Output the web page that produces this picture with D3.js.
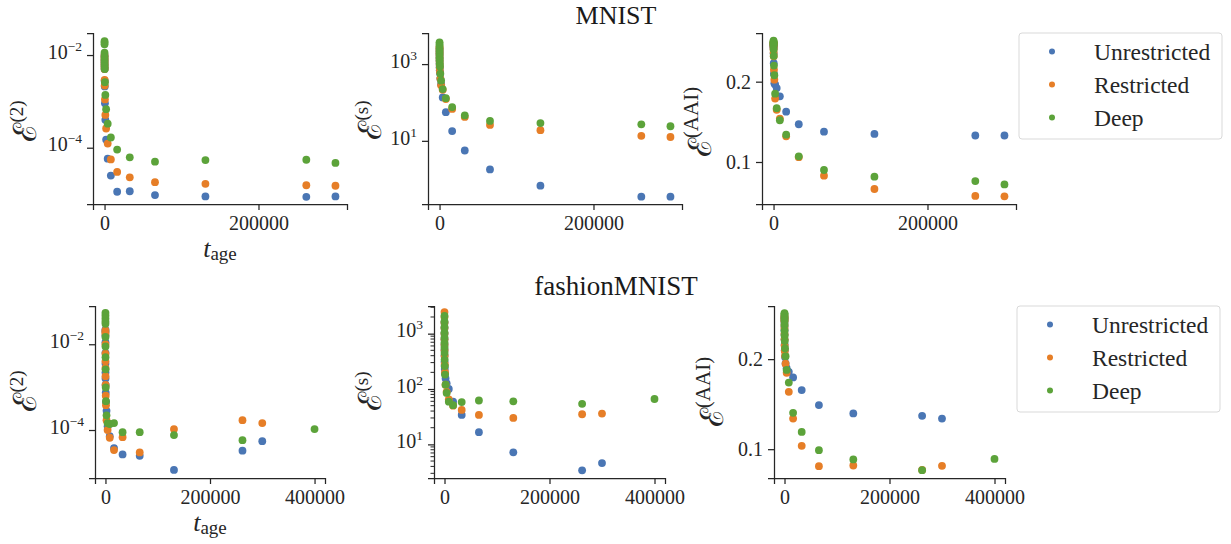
<!DOCTYPE html>
<html>
<head>
<meta charset="utf-8">
<script src="https://cdn.jsdelivr.net/npm/d3@7"></script>
<style>
  body { margin: 0; background: #fff; }
</style>
</head>
<body>
<svg width="1231" height="544"></svg>
<script>

var serif = "'Liberation Serif', 'Times New Roman', Tinos, 'DejaVu Serif', serif";

// t_age values (powers of two, then the last checkpoint)
var tAge = [1, 2, 4, 8, 16, 32, 64, 128, 256, 512, 1024, 2048, 4096, 8192,
            16384, 32768, 65536, 131072, 262144, 300000];
var tAgeDeepFashion = [1, 2, 4, 8, 16, 32, 64, 128, 256, 512, 1024, 2048, 4096, 8192,
            16384, 32768, 65536, 131072, 262144, 400000];

var seriesNames = ["Unrestricted", "Restricted", "Deep"];
var seriesColors = ["#4a76b4", "#e67e27", "#5ca33a"];

// MNIST, E^(2)
var mnistE2Unres = [1.0e-2, 9.1e-3, 7.9e-3, 7.1e-3, 6.3e-3, 5.6e-3, 5.0e-3, 2.8e-3, 2.1e-3, 9.1e-4,
  4.0e-4, 1.5e-4, 5.8e-5, 2.5e-5, 1.12e-5, 1.15e-5, 9.5e-6, 8.9e-6, 8.7e-6, 8.9e-6];
var mnistE2Res = [1.0e-2, 8.9e-3, 7.9e-3, 7.1e-3, 6.3e-3, 5.6e-3, 5.0e-3, 2.9e-3, 2.2e-3, 1.1e-3,
  5.1e-4, 2.6e-4, 1.23e-4, 5.6e-5, 3.0e-5, 2.3e-5, 1.8e-5, 1.66e-5, 1.55e-5, 1.51e-5];
var mnistE2Deep = [2.0e-2, 1.86e-2, 1.7e-2, 1.12e-2, 9.1e-3, 7.9e-3, 6.8e-3, 5.8e-3, 5.0e-3, 2.6e-3,
  1.38e-3, 6.8e-4, 3.3e-4, 1.66e-4, 9.1e-5, 6.2e-5, 5.0e-5, 5.4e-5, 5.5e-5, 4.7e-5];

// MNIST, E^(s)
var mnistEsUnres = [2500, 2190, 1900, 1660, 1410, 1200, 1000, 830, 690, 590,
  420, 300, 135, 56, 18, 5.6, 1.8, 0.68, 0.35, 0.35];
var mnistEsRes = [2800, 2500, 2190, 1900, 1620, 1380, 1150, 950, 790, 630,
  420, 280, 214, 123, 68, 42, 26, 19, 13.5, 12.6];
var mnistEsDeep = [3700, 3300, 2900, 2500, 2140, 1820, 1510, 1260, 1050, 870,
  560, 370, 224, 129, 76, 46, 33, 29, 27, 24];

// MNIST, E^(AAI)
var mnistAaiUnres = [0.248, 0.247, 0.246, 0.245, 0.244, 0.243, 0.242, 0.235, 0.223, 0.210,
  0.198, 0.1966, 0.192, 0.1817, 0.1626, 0.147, 0.1377, 0.135, 0.133, 0.133];
var mnistAaiRes = [0.249, 0.248, 0.247, 0.246, 0.245, 0.243, 0.240, 0.236, 0.2315, 0.215,
  0.2025, 0.179, 0.165, 0.154, 0.132, 0.106, 0.083, 0.0664, 0.0577, 0.0572];
var mnistAaiDeep = [0.251, 0.250, 0.249, 0.248, 0.247, 0.246, 0.245, 0.240, 0.232, 0.220,
  0.208, 0.185, 0.167, 0.152, 0.134, 0.107, 0.090, 0.0817, 0.0763, 0.0721];

// fashionMNIST, E^(2)
var fashionE2Unres = [2.2e-2, 2.0e-2, 1.6e-2, 1.12e-2, 6.3e-3, 3.5e-3, 2.2e-3, 1.6e-3, 1.12e-3, 7.4e-4,
  4.5e-4, 2.8e-4, 1.23e-4, 7.2e-5, 3.8e-5, 2.7e-5, 2.5e-5, 1.17e-5, 3.3e-5, 5.5e-5];
var fashionE2Res = [2.1e-2, 1.9e-2, 1.74e-2, 1.0e-2, 6.0e-3, 4.0e-3, 2.8e-3, 1.8e-3, 1.12e-3, 6.3e-4,
  3.8e-4, 1.7e-4, 1.0e-4, 6.6e-5, 3.4e-5, 6.8e-5, 3.0e-5, 1.05e-4, 1.7e-4, 1.45e-4];
var fashionE2Deep = [5.4e-2, 4.7e-2, 4.0e-2, 3.4e-2, 3.0e-2, 1.48e-2, 8.9e-3, 5.0e-3, 2.6e-3, 9.8e-4,
  4.7e-4, 2.2e-4, 1.45e-4, 1.38e-4, 1.45e-4, 8.9e-5, 8.9e-5, 7.6e-5, 5.8e-5, 1.05e-4];

// fashionMNIST, E^(s)
var fashionEsUnres = [1580, 1260, 1000, 790, 630, 510, 400, 310, 260, 230,
  190, 155, 126, 100, 59, 34, 16.6, 7.2, 3.4, 4.6];
var fashionEsRes = [2450, 2000, 1580, 1260, 1000, 790, 630, 500, 400, 280,
  200, 120, 89, 65, 50, 42, 34, 30, 35, 36];
var fashionEsDeep = [2090, 1660, 1320, 1050, 850, 690, 560, 450, 340, 260,
  182, 120, 85, 59, 51, 58, 62, 60, 54, 66];

// fashionMNIST, E^(AAI)
var fashionAaiUnres = [0.247, 0.245, 0.243, 0.240, 0.236, 0.232, 0.2274, 0.222, 0.216, 0.210,
  0.2025, 0.1952, 0.190, 0.1859, 0.1797, 0.1656, 0.149, 0.1397, 0.137, 0.134];
var fashionAaiRes = [0.248, 0.246, 0.244, 0.242, 0.2378, 0.234, 0.228, 0.222, 0.215, 0.209,
  0.2037, 0.195, 0.1848, 0.1637, 0.134, 0.1037, 0.0811, 0.0819, 0.077, 0.0815];
var fashionAaiDeep = [0.251, 0.250, 0.249, 0.247, 0.245, 0.2426, 0.238, 0.2315, 0.226, 0.220,
  0.212, 0.2033, 0.188, 0.174, 0.1404, 0.1192, 0.0989, 0.0886, 0.0767, 0.0892];

var svg = d3.select("svg");

function zip(ts, vs) {
  return ts.map(function(t, i) { return {t: t, v: vs[i]}; });
}

function panel(cfg) {
  var g = svg.append("g").attr("transform", "translate(" + cfg.left + "," + cfg.top + ")");
  var w = cfg.right - cfg.left, h = cfg.bottom - cfg.top;

  var x = d3.scaleLinear().domain(cfg.xDomain).range([0, w]);
  var y = (cfg.log ? d3.scaleLog() : d3.scaleLinear()).domain(cfg.yDomain).range([h, 0]);

  // x axis
  var xa = g.append("g").attr("transform", "translate(0," + h + ")")
      .call(d3.axisBottom(x).tickValues(cfg.xTicks).tickSize(6).tickPadding(6).tickFormat(d3.format("d")));
  xa.select(".domain").attr("stroke", "#262626").attr("stroke-width", 1.25);
  xa.selectAll(".tick line").attr("stroke", "#262626").attr("stroke-width", 1.25);
  xa.selectAll(".tick text").style("font-family", serif).style("font-size", "20px").attr("fill", "#262626");

  // y axis
  var ya = g.append("g")
      .call(d3.axisLeft(y).tickValues(cfg.yTicks).tickSize(6).tickPadding(5).tickFormat(""));
  ya.select(".domain").attr("stroke", "#262626").attr("stroke-width", 1.25);
  ya.selectAll(".tick line").attr("stroke", "#262626").attr("stroke-width", 1.25);
  ya.selectAll(".tick").each(function(d) {
    var t = d3.select(this).append("text")
        .attr("x", -11).attr("dy", "0.32em")
        .attr("text-anchor", "end").attr("fill", "#262626")
        .style("font-family", serif);
    if (cfg.log) {
      var e = Math.round(Math.log10(d));
      t.append("tspan").style("font-size", "20px").text("10");
      t.append("tspan").style("font-size", "13.5px").attr("dy", -8).text(String(e).replace("-", "\u2212"));
    } else {
      t.style("font-size", "20px").text(d3.format(".1f")(d));
    }
  });

  if (cfg.minor) {
    g.append("g").selectAll("line").data(cfg.minor).join("line")
        .attr("x1", -3.5).attr("x2", 0)
        .attr("y1", function(d) { return y(d); }).attr("y2", function(d) { return y(d); })
        .attr("stroke", "#262626").attr("stroke-width", 1);
  }

  // points
  cfg.series.forEach(function(s, i) {
    g.append("g").selectAll("circle").data(s).join("circle")
        .attr("cx", function(d) { return x(d.t); })
        .attr("cy", function(d) { return y(d.v); })
        .attr("r", 3.9)
        .attr("fill", seriesColors[i]);
  });

  // y label
  var yl = svg.append("text")
      .attr("transform", "translate(" + cfg.ylabelX + "," + cfg.ylabelY + ") rotate(-90)")
      .attr("text-anchor", "middle").attr("fill", "#262626").style("font-family", serif);
  yl.append("tspan").style("font-size", "32px").style("font-family", "'DejaVu Serif'").text("\u2130");
  yl.append("tspan").style("font-size", (cfg.supSize || 19) + "px").attr("dy", -13).text(cfg.ysup);

  if (cfg.xlabel) {
    var xl = svg.append("text")
        .attr("x", cfg.xlabel[0]).attr("y", cfg.xlabel[1])
        .attr("text-anchor", "middle").attr("fill", "#262626").style("font-family", serif);
    xl.append("tspan").style("font-size", "26px").style("font-style", "italic").text("t");
    xl.append("tspan").style("font-size", "19px").attr("dy", 3).text("age");
  }
}

function legend(x0, y0) {
  var g = svg.append("g").attr("transform", "translate(" + x0 + "," + y0 + ")");
  g.append("rect").attr("width", 203).attr("height", 106).attr("rx", 3)
      .attr("fill", "#fff").attr("stroke", "#d9d9d9").attr("stroke-width", 1);
  seriesNames.forEach(function(n, i) {
    g.append("circle").attr("cx", 33).attr("cy", 18.5 + i * 33).attr("r", 3)
        .attr("fill", seriesColors[i]);
    g.append("text").attr("x", 75).attr("y", 18.5 + i * 33).attr("dy", "0.35em")
        .attr("fill", "#262626").style("font-family", serif).style("font-size", "23.5px").text(n);
  });
}

var topRow = {top: 33, bottom: 204, xDomain: [-15000, 315000], xTicks: [0, 200000]};
var botRow = {top: 306, bottom: 478, xDomain: [-20000, 420000], xTicks: [0, 200000, 400000]};

function minorTicks(lo, hi) {
  var out = [];
  for (var e = lo; e <= hi; e++) {
    [2, 3, 4, 5, 6, 7, 8, 9].forEach(function(m) { out.push(m * Math.pow(10, e)); });
  }
  return out;
}

panel(Object.assign({}, topRow, {
  left: 93, right: 347, log: true, yDomain: [6.1e-6, 2.99e-2], yTicks: [1e-4, 1e-2],
  series: [zip(tAge, mnistE2Unres), zip(tAge, mnistE2Res), zip(tAge, mnistE2Deep)],
  ylabelX: 36, ylabelY: 121, ysup: "(2)", xlabel: [220, 257]
}));
panel(Object.assign({}, topRow, {
  left: 428, right: 682, log: true, yDomain: [0.226, 6460], yTicks: [10, 1000],
  series: [zip(tAge, mnistEsUnres), zip(tAge, mnistEsRes), zip(tAge, mnistEsDeep)],
  ylabelX: 381, ylabelY: 120, ysup: "(s)"
}));
panel(Object.assign({}, topRow, {
  left: 762, right: 1016, log: false, yDomain: [0.0477, 0.2606], yTicks: [0.1, 0.2],
  series: [zip(tAge, mnistAaiUnres), zip(tAge, mnistAaiRes), zip(tAge, mnistAaiDeep)],
  ylabelX: 711, ylabelY: 122, ysup: "(AAI)", supSize: 21
}));
panel(Object.assign({}, botRow, {
  left: 95, right: 325, log: true, yDomain: [7.6e-6, 7.8e-2], yTicks: [1e-4, 1e-2],
  series: [zip(tAge, fashionE2Unres), zip(tAge, fashionE2Res), zip(tAgeDeepFashion, fashionE2Deep)],
  ylabelX: 36, ylabelY: 391, ysup: "(2)", xlabel: [210, 531]
}));
panel(Object.assign({}, botRow, {
  left: 434, right: 665, log: true, yDomain: [2.47, 3160], yTicks: [10, 100, 1000],
  minor: minorTicks(0, 3).filter(function(v) { return v >= 2.47 && v <= 3160; }),
  series: [zip(tAge, fashionEsUnres), zip(tAge, fashionEsRes), zip(tAgeDeepFashion, fashionEsDeep)],
  ylabelX: 381, ylabelY: 391, ysup: "(s)"
}));
panel(Object.assign({}, botRow, {
  left: 774, right: 1005, log: false, yDomain: [0.068, 0.259], yTicks: [0.1, 0.2],
  series: [zip(tAge, fashionAaiUnres), zip(tAge, fashionAaiRes), zip(tAgeDeepFashion, fashionAaiDeep)],
  ylabelX: 723, ylabelY: 392, ysup: "(AAI)", supSize: 21
}));

svg.append("text").attr("x", 616).attr("y", 24).attr("text-anchor", "middle")
    .attr("fill", "#1a1a1a").style("font-family", serif).style("font-size", "26px").text("MNIST");
svg.append("text").attr("x", 616).attr("y", 295).attr("text-anchor", "middle")
    .attr("fill", "#1a1a1a").style("font-family", serif).style("font-size", "27px").text("fashionMNIST");

legend(1019, 33);
legend(1017, 306);

</script>
</body>
</html>
